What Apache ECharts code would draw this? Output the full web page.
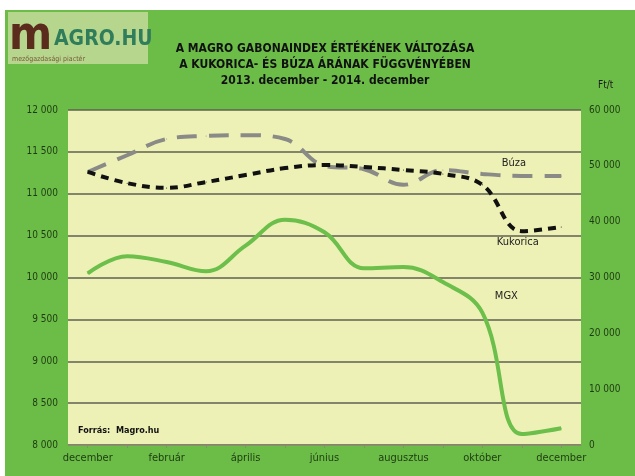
<!DOCTYPE html>
<html>
<head>
<meta charset="utf-8">
<script src="https://cdn.jsdelivr.net/npm/echarts@6/dist/echarts.min.js"></script>
<style>
  html, body { margin: 0; padding: 0; background: #fff; }
  #chart { width: 635px; height: 476px; }
</style>
</head>
<body>
<div id="chart"></div>
<script>
const months = ['december', 'január', 'február', 'március', 'április', 'május', 'június',
  'július', 'augusztus', 'szeptember', 'október', 'november', 'december']

// MGX index (bal tengely)
const mgx = [10050, 10255, 10185, 10075, 10380, 10690, 10540, 10110, 10125, 9945, 9580, 8130, 8200]
// Kukorica ár, Ft/t (jobb tengely)
const kukorica = [48900, 46900, 46050, 47100, 48350, 49600, 50150, 49800, 49250, 48550, 46600, 38300, 39050]
// Búza ár, Ft/t (jobb tengely)
const buza = [48900, 51900, 54800, 55350, 55500, 54800, 50000, 49400, 46600, 49250, 48550, 48200, 48200]

const titleLines = [
  'A MAGRO GABONAINDEX ÉRTÉKÉNEK VÁLTOZÁSA',
  'A KUKORICA- ÉS BÚZA ÁRÁNAK FÜGGVÉNYÉBEN',
  '2013. december - 2014. december',
]

const FONT = '"Liberation Sans Narrow", "DejaVu Sans Condensed", sans-serif'

function fmt(v) {
  return String(v).replace(/\B(?=(\d{3})+(?!\d))/g, ' ')
}

// felirat egy adott pontnál
function labelled(arr, idx, text, pos, offset) {
  return arr.map((v, i) => i === idx
    ? { value: v, label: { show: true, formatter: text, position: pos, offset, color: '#222', fontSize: 11, fontFamily: FONT } }
    : v)
}

const chart = echarts.init(document.getElementById('chart'))

chart.setOption({
  backgroundColor: '#ffffff',
  animation: false,
  textStyle: { fontFamily: FONT },
  title: {
    text: titleLines.join('\n'),
    left: 320, top: 36, textAlign: 'center',
    textStyle: { fontFamily: FONT, fontSize: 12, fontWeight: 'bold', color: '#111', lineHeight: 16 },
  },
  graphic: [
    // zöld háttér
    { type: 'rect', z: -10, shape: { x: 5, y: 10, width: 630, height: 466 }, style: { fill: '#6cbd47' } },
    // logó
    { type: 'rect', z: -5, shape: { x: 8, y: 12, width: 140, height: 52 }, style: { fill: '#b5d68c' } },
    { type: 'text', left: 9, top: 14, style: { text: 'm', font: 'bold 46px ' + FONT, fill: '#5b2b1e' } },
    { type: 'text', left: 54, top: 29, style: { text: 'AGRO.HU', font: 'bold 21px ' + FONT, fill: '#2f7d5a' } },
    { type: 'text', left: 12, top: 56, style: { text: 'mezőgazdasági piactér', font: '7px ' + FONT, fill: '#7a5a3a' } },
    { type: 'text', left: 598, top: 80, style: { text: 'Ft/t', font: '10px ' + FONT, fill: '#1a1a1a' } },
    { type: 'text', left: 78, top: 426, style: { text: 'Forrás:  Magro.hu', font: 'bold 9px ' + FONT, fill: '#111' } },
  ],
  grid: {
    left: 68, right: 54, top: 110, bottom: 31,
    show: true, backgroundColor: '#eef1b6', borderWidth: 0,
  },
  xAxis: {
    type: 'category',
    data: months,
    boundaryGap: true,
    axisLine: { lineStyle: { color: '#8a8f6a', width: 1 } },
    axisTick: { show: true, alignWithLabel: true, interval: 0, length: 3, lineStyle: { color: '#8a8f6a' } },
    axisLabel: { interval: 1, color: '#1e3a12', fontSize: 11, fontFamily: FONT, margin: 8 },
  },
  yAxis: [
    {
      type: 'value', min: 8000, max: 12000, interval: 500,
      axisLine: { show: false }, axisTick: { show: false },
      axisLabel: { color: '#1e3a12', fontSize: 10, fontFamily: FONT, margin: 10, formatter: fmt },
      splitLine: { lineStyle: { color: '#5e6150', width: 1.5 } },
    },
    {
      type: 'value', min: 0, max: 60000, interval: 10000,
      axisLine: { show: false }, axisTick: { show: false },
      axisLabel: { color: '#1e3a12', fontSize: 10, fontFamily: FONT, margin: 8, formatter: fmt },
      splitLine: { show: false },
    },
  ],
  series: [
    {
      name: 'MGX', type: 'line', yAxisIndex: 0, smooth: 0.4,
      symbol: 'circle', symbolSize: 1, showSymbol: true,
      itemStyle: { color: '#6cbf4a' },
      lineStyle: { color: '#6cbf4a', width: 4 },
      data: labelled(mgx, 10, 'MGX', 'top', [24, -6]),
      z: 3,
    },
    {
      name: 'Búza', type: 'line', yAxisIndex: 1, smooth: 0.4,
      symbol: 'circle', symbolSize: 1, showSymbol: true,
      itemStyle: { color: '#8a8a86' },
      lineStyle: { color: '#8a8a86', width: 4, type: [20, 12] },
      data: labelled(buza, 11, 'Búza', 'top', [-8, -2]),
      z: 4,
    },
    {
      name: 'Kukorica', type: 'line', yAxisIndex: 1, smooth: 0.4,
      symbol: 'circle', symbolSize: 1, showSymbol: true,
      itemStyle: { color: '#111' },
      lineStyle: { color: '#111', width: 4, type: [8, 6] },
      data: labelled(kukorica, 11, 'Kukorica', 'bottom', [-4, 0]),
      z: 5,
    },
  ],
})
</script>
</body>
</html>
